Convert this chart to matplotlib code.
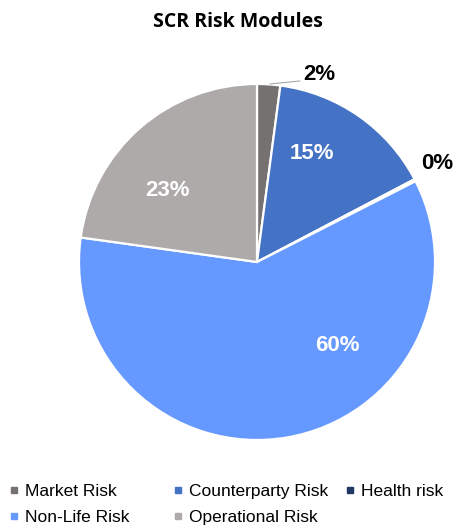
import matplotlib
matplotlib.use('Agg')

import matplotlib.pyplot as plt
from matplotlib.lines import Line2D

# data
modules = ['Market Risk', 'Counterparty Risk', 'Health risk', 'Non-Life Risk', 'Operational Risk']
shares = [2.1, 15.2, 0.2, 59.7, 22.8]
colors = ['#767171', '#4472C4', '#1F3864', '#6699FF', '#AEAAAA']
# label spots (in pie radius units), Excel "best fit" style
label_pos = [(0.35, 1.055), (0.31, 0.61), (1.011, 0.556), (0.45, -0.47), (-0.50, 0.40)]
label_inside = [False, True, False, True, True]

plt.rcParams['font.family'] = ['Liberation Sans', 'DejaVu Sans']

fig = plt.figure(figsize=(4.55, 5.28), dpi=100)
ax = fig.add_axes([0, 0, 1, 1])

ax.pie(shares, colors=colors, startangle=90, counterclock=False,
       wedgeprops=dict(edgecolor='white', linewidth=1.6))

ax.set_xlim(-257 / 178, (455 - 257) / 178)
ax.set_ylim(-266 / 178, 262 / 178)
ax.axis('off')

total = sum(shares)
for val, (x, y), inside in zip(shares, label_pos, label_inside):
    txt = '%.0f%%' % (val / total * 100)
    ax.text(x, y, txt, ha='center', va='center', fontsize=16, fontweight='bold',
            color='white' if inside else 'black')

# leader line for the small market slice
ax.plot([0.073, 0.24], [1.0, 1.017], color='#A6A6A6', lw=0.8)

fig.text(0.522, 1 - 22 / 528, 'SCR Risk Modules', ha='center', va='center',
         fontsize=14, fontweight='bold', family=['Open Sans', 'DejaVu Sans'])

# legend, three columns placed like the Excel one
columns = [[0, 3], [1, 4], [2]]
col_x = [9, 173, 345]
for idx, x in zip(columns, col_x):
    handles = [Line2D([], [], ls='', marker='s', ms=5, color=colors[i]) for i in idx]
    fig.legend(handles, [modules[i] for i in idx], loc='upper left',
               bbox_to_anchor=(x / 455, 1 - 484 / 528), frameon=False,
               fontsize=12.5, handlelength=0.6, handletextpad=0.3,
               borderpad=0, borderaxespad=0, labelspacing=0.62)

fig.savefig('out.png', dpi=100)
